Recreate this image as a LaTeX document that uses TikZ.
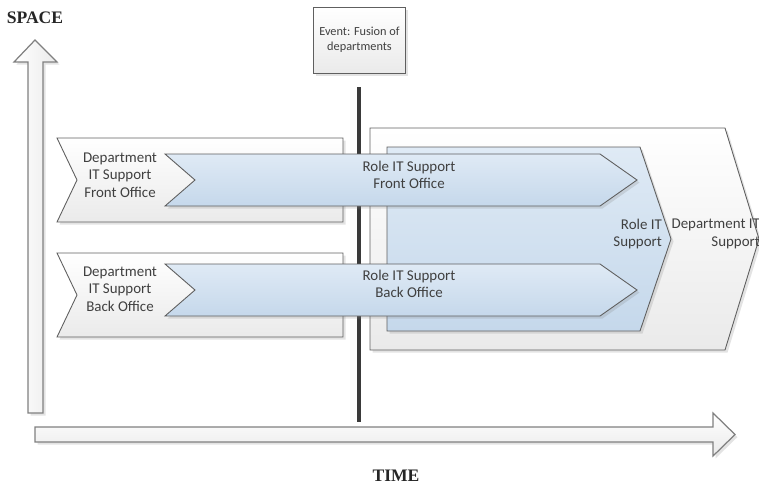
\documentclass[tikz,border=0pt]{standalone}
\usepackage{fontspec}
\setmainfont{Carlito}
\newfontfamily\axisfont{Liberation Serif}
\usetikzlibrary{shadows}
\definecolor{edgegray}{HTML}{5F5F5F}
\definecolor{axisedge}{HTML}{808080}
\definecolor{deptfill}{HTML}{EAEAEA}
\definecolor{roletop}{HTML}{DFEAF5}
\definecolor{rolebottom}{HTML}{C5D8EB}
\definecolor{barcolor}{HTML}{3A3A3A}
\definecolor{labeltext}{HTML}{404040}
\tikzset{
  softshadow/.style={drop shadow={opacity=0.22, shadow xshift=0.05cm, shadow yshift=-0.05cm}},
  dept/.style={draw=edgegray, line width=0.5pt, top color=white, bottom color=deptfill, softshadow},
  role/.style={draw=edgegray, line width=0.5pt, top color=roletop, bottom color=rolebottom, softshadow},
  axisarrow/.style={draw=axisedge, line width=0.7pt, top color=white, bottom color=deptfill, softshadow},
  eventbox/.style={rectangle, draw=edgegray, line width=0.5pt, top color=white, bottom color=deptfill, softshadow,
    minimum width=1.82cm, minimum height=1.32cm, align=center, font=\fontsize{7}{8.4}\selectfont, text=labeltext},
  fusionbar/.style={draw=barcolor, line width=0.08cm},
  label/.style={font=\fontsize{8.5}{10}\selectfont, align=center, text=labeltext, inner sep=1pt},
  axislabel/.style={font=\axisfont\fontsize{10}{12}\selectfont\bfseries, text=black!85},
}

\begin{document}
\begin{tikzpicture}[x=0.02cm, y=-0.02cm]
\useasboundingbox (0,0) rectangle (759,485);

% ===== Axes =====
\draw[axisarrow, left color=white, right color=deptfill]
  (28,413) -- (28,62) -- (14,62) -- (35,40) -- (57,62) -- (43,62) -- (43,413) -- cycle;
\draw[axisarrow]
  (35,427) -- (713,427) -- (713,413) -- (735,434.5) -- (713,456) -- (713,442) -- (35,442) -- cycle;
\node[axislabel] (space) at (35,18) {SPACE};
\node[axislabel] (time) at (396,476) {TIME};

% ===== After the fusion =====
\draw[dept] (370,128) -- (725,128) -- (759,239) -- (725,350) -- (370,350) -- cycle;
\draw[role] (387,147) -- (640,147) -- (671,239) -- (640,331) -- (387,331) -- cycle;

% ===== Departments before the fusion =====
\draw[dept] (57,138) -- (343,138) -- (343,222) -- (57,222) -- (77,180) -- cycle;
\draw[dept] (57,253) -- (343,253) -- (343,337) -- (57,337) -- (77,295) -- cycle;

% ===== Event =====
\node[eventbox] (event) at (359.5,40) {Event: Fusion of\\departments};
\coordinate (bartop) at (359,87);
\coordinate (barbottom) at (359,422);
\draw[fusionbar] (bartop) -- (barbottom);

% ===== Roles =====
\draw[role] (165,154) -- (600,154) -- (637,180) -- (600,206) -- (165,206) -- (195,180) -- cycle;
\draw[role] (165,264) -- (600,264) -- (637,290) -- (600,316) -- (165,316) -- (195,290) -- cycle;

% ===== Labels =====
\node[label] (deptfront) at (120,175) {Department\\IT Support\\Front Office};
\node[label] (deptback)  at (120,289) {Department\\IT Support\\Back Office};
\node[label] (rolefront) at (409,175) {Role IT Support\\Front Office};
\node[label] (roleback)  at (409,284) {Role IT Support\\Back Office};
\node[label, align=right, anchor=east] (roleit) at (664,234) {Role IT\\Support};
\node[label, align=right, anchor=east] (deptit) at (762,234) {Department IT\\Support};

\end{tikzpicture}
\end{document}
